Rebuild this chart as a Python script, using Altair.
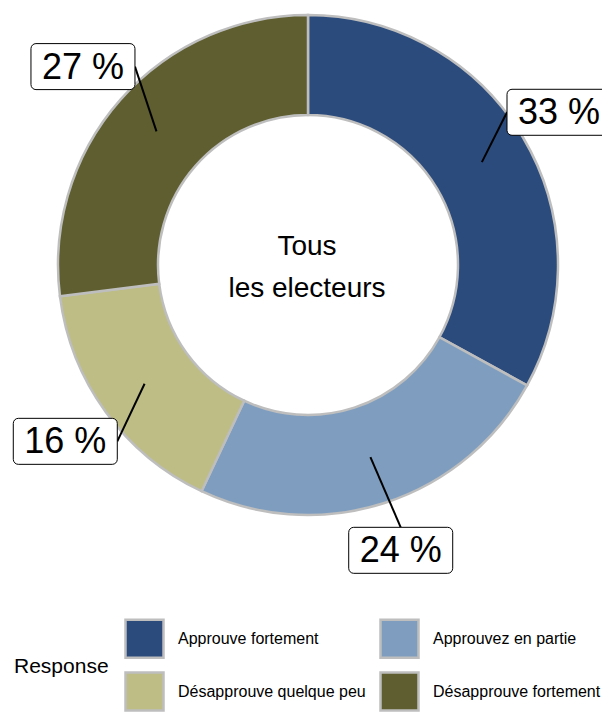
import altair as alt
import pandas as pd

# ---- data ----
responses = ["Approuve fortement", "Approuvez en partie",
             "Désapprouve quelque peu", "Désapprouve fortement"]
values = [33, 24, 16, 27]
colors = ["#2B4B7D", "#7F9EBF", "#BDBD85", "#5E5E30"]
center_lines = ["Tous", "les electeurs"]
legend_title = "Response"

df = pd.DataFrame({"response": responses, "value": values,
                   "idx": list(range(len(responses)))})

# ---- layout parameters (pixels in plot space) ----
W, H = 594, 706
CX, CY = 300, 257
R_OUT, R_IN = 250, 150
R_LAB, R_SEG = 300, 202
BW, BH = 104, 46
XMAX = 551

xs = alt.Scale(domain=[0, W], nice=False, zero=False)
ys = alt.Scale(domain=[0, H], nice=False, zero=False, reverse=True)

arcs = alt.Chart(df).mark_arc(
    outerRadius=R_OUT, innerRadius=R_IN, stroke="#BEBEBE", strokeWidth=2.5
).encode(
    theta=alt.Theta("value:Q", stack=True),
    order=alt.Order("idx:Q", sort="ascending"),
    color=alt.Color(
        "response:N",
        scale=alt.Scale(domain=responses, range=colors),
        sort=responses,
        legend=alt.Legend(
            orient="none", legendX=6, legendY=610, columns=2,
            direction="horizontal",
            title=legend_title, titleOrient="left", titleAnchor="middle",
            titleBaseline="middle",
            titleFontSize=21, titleFont="Liberation Sans", titleFontWeight="normal",
            titleColor="#000000", titlePadding=15,
            labelFontSize=16, labelFont="Liberation Sans", labelColor="#000000",
            labelLimit=400, labelOffset=13,
            symbolType="square", symbolSize=1444, symbolStrokeColor="#BEBEBE",
            symbolStrokeWidth=2.5, symbolOpacity=1,
            columnPadding=9, rowPadding=4,
        ),
    ),
    x=alt.value(CX), y=alt.value(CY),
)

base = alt.Chart(df).transform_joinaggregate(
    total="sum(value)"
).transform_window(
    cum="sum(value)", sort=[alt.SortField("idx", order="ascending")],
    frame=[None, 0]
).transform_calculate(
    mid="(datum.cum - datum.value/2) / datum.total * 2 * PI",
).transform_calculate(
    bx=f"min({CX} + {R_LAB} * sin(datum.mid), {XMAX})",
    by=f"{CY} - {R_LAB} * cos(datum.mid)",
    px=f"{CX} + {R_SEG} * sin(datum.mid)",
    py=f"{CY} - {R_SEG} * cos(datum.mid)",
    label="datum.value + ' %'",
).transform_calculate(
    x1=f"datum.bx - {BW/2}", x2=f"datum.bx + {BW/2}",
    y1=f"datum.by - {BH/2}", y2=f"datum.by + {BH/2}",
).transform_calculate(
    inside="datum.px >= datum.x1 && datum.px <= datum.x2",
).transform_calculate(
    ex="datum.inside ? datum.bx : (datum.px < datum.x1 ? datum.x1 : datum.x2)",
    ey="datum.inside ? (datum.py < datum.y1 ? datum.y1 : datum.y2) : datum.by",
)

segs = base.mark_rule(color="black", strokeWidth=2).encode(
    x=alt.X("px:Q", scale=xs, axis=None),
    y=alt.Y("py:Q", scale=ys, axis=None),
    x2="ex:Q", y2="ey:Q",
)

boxes = base.mark_rect(fill="white", stroke="black", strokeWidth=1,
                       cornerRadius=5).encode(
    x=alt.X("x1:Q", scale=xs, axis=None),
    y=alt.Y("y1:Q", scale=ys, axis=None),
    x2="x2:Q", y2="y2:Q",
)

labels = base.mark_text(fontSize=36, font="Liberation Sans", color="black",
                        align="center", baseline="middle", dy=1).encode(
    x=alt.X("bx:Q", scale=xs, axis=None),
    y=alt.Y("by:Q", scale=ys, axis=None),
    text="label:N",
)

center = alt.Chart(pd.DataFrame({"t": [center_lines]})).mark_text(
    fontSize=28, font="Liberation Sans", color="black", align="center",
    baseline="alphabetic", lineHeight=42,
).encode(
    x=alt.value(CX - 1), y=alt.value(CY - 10), text="t"
)

chart = alt.layer(arcs, segs, boxes, labels, center).properties(
    width=W, height=H, autosize=alt.AutoSizeParams(type="none"), padding=0
).configure_view(stroke=None)

chart.save("out.html", embed_options={"renderer": "svg", "actions": False})
